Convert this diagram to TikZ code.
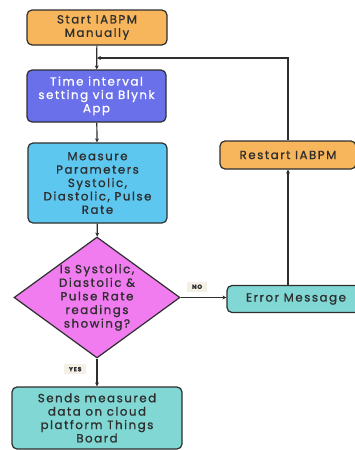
\documentclass[tikz,border=0pt]{standalone}
\usepackage{fontspec}
\setmainfont{Poppins}[LetterSpace=13,FakeBold=1]
\usetikzlibrary{shapes.geometric,arrows.meta}

\definecolor{boxorange}{HTML}{F8B65C}
\definecolor{boxviolet}{HTML}{6A70EA}
\definecolor{boxblue}{HTML}{5EC7EF}
\definecolor{boxpink}{HTML}{F07CF0}
\definecolor{boxteal}{HTML}{80D7D4}
\definecolor{tagbg}{HTML}{F4F0E6}
\definecolor{inkgray}{HTML}{2E2E2E}

\tikzset{
	stepbox/.style={draw=inkgray, line width=1.2pt, rounded corners=5pt, align=center,
		inner sep=0pt, text=inkgray, font=\fontsize{11.8}{13.4}\selectfont},
	checkbox/.style={diamond, draw=inkgray, line width=1.2pt, aspect=1.37, align=center,
		inner sep=-12pt, fill=boxpink, text=inkgray, font=\fontsize{11.8}{13.6}\selectfont},
	flow/.style={draw=inkgray, line width=1.2pt, -{Stealth[length=4pt,width=4pt]}},
	tag/.style={fill=tagbg, inner xsep=5pt, inner ysep=3pt, text=inkgray, font=\fontsize{6}{7}\bfseries\selectfont}
}

\begin{document}
\begin{tikzpicture}[x=1pt,y=-1pt]
		\clip (0,0) rectangle (355,450);
		\node[stepbox, fill=boxorange, minimum width=140pt, minimum height=35pt] (start) at (97,27.5) {Start IABPM\\Manually};
		\node[stepbox, fill=boxviolet, text=white, minimum width=139pt, minimum height=52pt] (timeint) at (96.5,96) {Time interval\\setting via Blynk\\App};
		\node[stepbox, fill=boxblue, minimum width=139pt, minimum height=80pt] (measure) at (97.5,183) {Measure\\Parameters\\Systolic,\\Diastolic, Pulse\\Rate};
		\node[checkbox, minimum width=166pt, minimum height=121pt] (check) at (97,297.5) {Is Systolic,\\Diastolic \&\\Pulse Rate\\readings\\showing?};
		\node[stepbox, fill=boxteal, minimum width=138pt, minimum height=27pt] (error) at (296,299) {Error Message};
		\node[stepbox, fill=boxorange, minimum width=136pt, minimum height=28pt] (restart) at (288,155) {Restart IABPM};
		\node[stepbox, fill=boxteal, minimum width=170pt, minimum height=62pt] (sends) at (97,418) {Sends measured\\data on cloud\\platform Things\\Board};
		\coordinate (loop) at (97,58);

		\draw[flow] (start) -- (timeint);
		\draw[flow] (timeint) -- (measure);
		\draw[flow] (measure) -- (check);
		\draw[flow] (check.east) -- node[tag, pos=0.36, above=5pt] {NO} (error.west |- check.east);
		\draw[flow] (check.south) -- node[tag, pos=0.38, left=10pt] {YES} (sends);
		\draw[flow] (error.north -| restart) -- (restart);
		\draw[flow] (restart) |- (loop);
	\end{tikzpicture}
\end{document}
